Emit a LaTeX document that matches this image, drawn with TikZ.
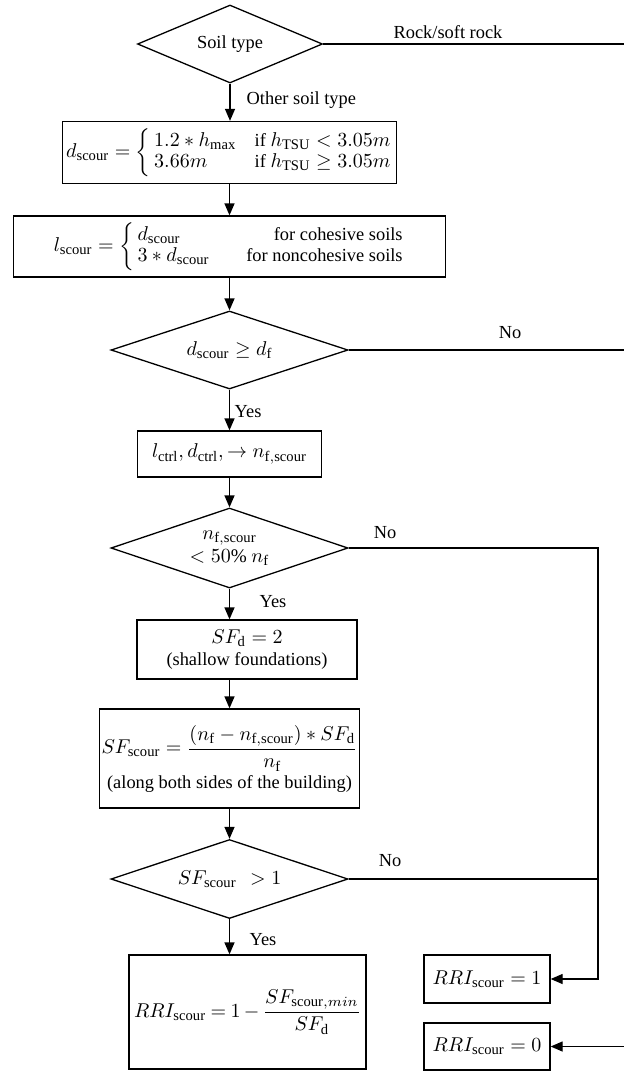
\documentclass[tikz,border=0pt]{standalone}
\usepackage{amsmath}
\usepackage{fontspec}
\setmainfont{Liberation Serif}
\usetikzlibrary{shapes.geometric,arrows.meta}
\DeclareMathSizes{9.2}{9.6}{7.3}{5.8}
\newcommand{\rmsub}[1]{\mathrm{#1}}
\newcommand{\mycases}[1]{\left\{\renewcommand{\arraystretch}{0.95}\begin{array}{@{\,}l@{\quad}l@{}}#1\end{array}\right.}
\begin{document}
\begin{tikzpicture}[x=0.5pt,y=-0.5pt, line width=0.65pt,
  every node/.style={font=\fontsize{9.2}{11}\selectfont},
  box/.style={draw, rectangle, inner sep=2pt, align=center},
  dec/.style={draw, diamond, aspect=3, inner sep=0pt, align=center},
  arr/.style={-{Triangle[length=6pt,width=5pt]}},
  lbl/.style={inner sep=1pt}]
\useasboundingbox (0,0) rectangle (624,1072);

% decisions
\node[dec, minimum width=92.5pt, minimum height=39pt] (d1) at (230,44) {Soil type};
\node[dec, minimum width=118.5pt, minimum height=39pt] (d2) at (229.5,350) {$d_{\rmsub{scour}}\geq d_{\rmsub{f}}$};
\node[dec, minimum width=118.5pt, minimum height=40pt] (d3) at (229.5,548) {$n_{\rmsub{f,scour}}$\\[0.5pt]$<50\%\ n_{\rmsub{f}}$};
\node[dec, minimum width=118.5pt, minimum height=39.5pt] (d4) at (229.5,879) {$SF_{\rmsub{scour}}\ \,>1$};

% boxes
\node[box, minimum width=165.5pt, minimum height=31pt] (b1) at (229.5,152.5)
  {$d_{\rmsub{scour}}=\mycases{1.2\ast h_{\max} & \text{if } h_{\rmsub{TSU}}<3.05m\\ 3.66m & \text{if } h_{\rmsub{TSU}}\geq 3.05m}$};
\node[box, minimum width=216pt, minimum height=30.5pt] (b2) at (229.5,246.5)
  {$l_{\rmsub{scour}}=\left\{\renewcommand{\arraystretch}{0.95}\begin{array}{@{\,}l@{\qquad}r@{}}d_{\rmsub{scour}} & \text{for cohesive soils}\\ 3\ast d_{\rmsub{scour}} & \text{for noncohesive soils}\end{array}\right.$};
\node[box, minimum width=92pt, minimum height=23pt] (b3) at (229.5,454)
  {$l_{\rmsub{ctrl}}, d_{\rmsub{ctrl}}, \rightarrow n_{\rmsub{f,scour}}$};
\node[box, minimum width=110pt, minimum height=29.5pt] (b4) at (247,649.5)
  {$SF_{\rmsub{d}}=2$\\(shallow foundations)};
\node[box, minimum width=129pt, minimum height=49.5pt, inner sep=1pt] (b5) at (229.5,758.5)
  {$SF_{\rmsub{scour}}=\dfrac{(n_{\rmsub{f}}-n_{\rmsub{f,scour}})\ast SF_{\rmsub{d}}}{n_{\rmsub{f}}}$\\[1pt](along both sides of the building)};
\node[box, minimum width=110.5pt, minimum height=57pt, inner sep=2.5pt] (b6) at (247.5,1012)
  {$\thickmuskip=4mu \medmuskip=3mu RRI_{\rmsub{scour}}=1-\dfrac{SF_{\rmsub{scour},min}}{SF_{\rmsub{d}}}$};
\node[box, minimum width=63pt, minimum height=24pt] (r1) at (487,979) {$RRI_{\rmsub{scour}}=1$};
\node[box, minimum width=63pt, minimum height=23.5pt] (r0) at (487,1046.5) {$RRI_{\rmsub{scour}}=0$};

% routing coordinates
\coordinate (eR1) at (630,44);
\coordinate (eR2) at (630,350);
\coordinate (eR3) at (630,1046.5);
\coordinate (m1) at (598,548);
\coordinate (m2) at (598,879);
\coordinate (m3) at (598,979);

% main vertical flow
\draw[arr] (d1.south) -- (b1.north -| d1.south);
\draw[arr] (b1.south) -- (b2.north -| b1.south);
\draw[arr] (b2.south -| d2.north) -- (d2.north);
\draw[arr] (d2.south) -- (b3.north -| d2.south);
\draw[arr] (b3.south -| d3.north) -- (d3.north);
\draw[arr] (d3.south) -- (d3.south |- b4.north);
\draw[arr] (b4.south -| d3.south) -- (b5.north -| d3.south);
\draw[arr] (b5.south -| d4.north) -- (d4.north);
\draw[arr] (d4.south) -- (d4.south |- b6.north);

% right branches
\draw (d1.east) -- (eR1) -- (eR3);
\draw (d2.east) -- (eR2);
\draw[arr] (eR3) -- (r0.east);
\draw[arr] (d3.east) -- (m1) -- (m3) -- (r1.east);
\draw (d4.east) -- (m2);

% labels
\node[lbl] at (448,32) {Rock/soft rock};
\node[lbl, anchor=west] at (244,100) {Other soil type};
\node[lbl] at (510,333) {No};
\node[lbl, anchor=west] at (232,412) {Yes};
\node[lbl] at (385,533) {No};
\node[lbl] at (273,602) {Yes};
\node[lbl] at (390,861) {No};
\node[lbl] at (263,940) {Yes};
\end{tikzpicture}
\end{document}
